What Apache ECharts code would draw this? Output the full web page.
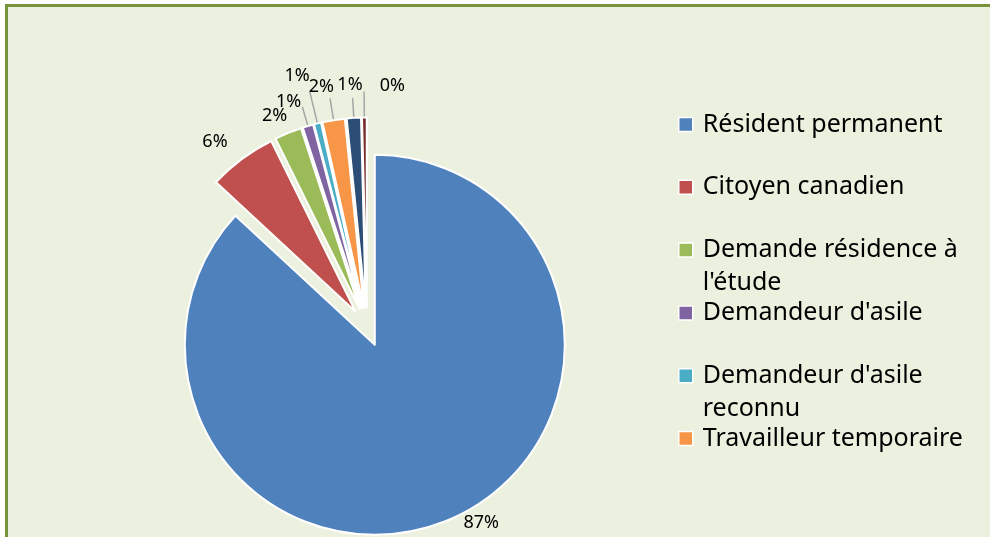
<!DOCTYPE html>
<html>
<head>
<meta charset="utf-8">
<title>Statut</title>
<script src="https://cdn.jsdelivr.net/npm/echarts@6/dist/echarts.min.js"></script>
<style>
	html, body {
		margin: 0;
		padding: 0;
		background: #fff;
		overflow: hidden;
	}
	.frame {
		position: absolute;
		left: 5px;
		top: 4px;
		width: 1000px;
		height: 600px;
		background: #ebf1de;
		border-left: 3px solid #77933c;
		border-top: 3px solid #77933c;
	}
	.pie_show {
		position: absolute;
		left: 0;
		top: 0;
		width: 990px;
		height: 537px;
	}
</style>
</head>
<body>
<div class="frame"></div>
<div class="pie_show"></div>
<script>
//données
var categories = ['Résident permanent', 'Citoyen canadien', 'Demande résidence à l\'étude', 'Demandeur d\'asile',
	'Demandeur d\'asile reconnu', 'Travailleur temporaire', 'Étudiant étranger', 'Autre'];
var values = [86.9, 5.8, 2.3, 0.9, 0.6, 1.9, 1.2, 0.4];
var colors = ['#4f81bd', '#c0504d', '#9bbb59', '#8064a2', '#4bacc6', '#f79646', '#2c4d75', '#772c2a'];
var legendShown = categories.slice(0, 6); // la légende est coupée après 6 entrées

//réglage des étiquettes (longueur du trait, écart, décalage vers le haut, trait visible)
var lineLen = [4, 22, 18, 20, 33, 22, 20, 26];
var labelGap = [11, 1, -6, 1, 0, -4, -10, -41];
var labelLift = [0, 0, 0, 5, 16, 12, 13, 6];
var lineShown = [false, false, false, true, true, true, true, true];

var legendFont = '25px "Noto Sans"';
var legendWidth = 285;

//coupe le nom en lignes comme dans la légende d'origine
function wrapName(name) {
	var ctx = document.createElement('canvas').getContext('2d');
	ctx.font = legendFont;
	var words = name.split(' ');
	var lines = [];
	var cur = '';
	for (var i = 0; i < words.length; i++) {
		var test = cur ? cur + ' ' + words[i] : words[i];
		if (cur && ctx.measureText(test).width > legendWidth) {
			lines.push(cur);
			cur = words[i];
		} else {
			cur = test;
		}
	}
	lines.push(cur);
	if (lines.length < 2) {
		lines.push('');
	}
	// ligne vide au-dessus : la première ligne reste au niveau du carré
	return '\n' + lines.join('\n');
}

function pie() {
	var myChart = echarts.init(document.querySelector('.pie_show'));
	var data = [];
	for (var i = 0; i < categories.length; i++) {
		data.push({
			name: categories[i],
			value: values[i],
			selected: true,
			itemStyle: {
				color: colors[i]
			},
			label: {
				distanceToLabelLine: labelGap[i]
			},
			labelLine: {
				show: lineShown[i],
				length: lineLen[i],
				length2: 0
			}
		});
	}
	var option = {
		animation: false,
		legend: {
			orient: 'vertical',
			left: 678,
			top: 75,
			padding: 0,
			itemGap: -36.2, // chaque entrée fait 3 lignes, on resserre
			itemWidth: 14,
			itemHeight: 14,
			icon: 'rect',
			itemStyle: {
				borderColor: '#fff',
				borderWidth: 1.5
			},
			formatter: wrapName,
			textStyle: {
				fontFamily: 'Noto Sans',
				fontSize: 25,
				color: '#000',
				lineHeight: 33,
				padding: [0, 0, 0, 5]
			},
			data: legendShown
		},
		series: [{
			type: 'pie',
			center: [367, 327],
			radius: 190,
			startAngle: 90,
			clockwise: true,
			selectedMode: 'multiple',
			selectedOffset: 19.5,
			avoidLabelOverlap: false,
			percentPrecision: 0,
			itemStyle: {
				borderColor: '#fff',
				borderWidth: 2
			},
			label: {
				position: 'outside',
				formatter: '{d}%',
				fontFamily: 'Noto Sans',
				fontSize: 18,
				color: '#000'
			},
			labelLine: {
				lineStyle: {
					color: '#a6a6a6',
					width: 1.5
				}
			},
			labelLayout: function(params) {
				return {
					dy: -labelLift[params.dataIndex],
					hideOverlap: false,
					moveOverlap: false
				};
			},
			emphasis: {
				disabled: true
			},
			data: data
		}]
	};
	myChart.setOption(option);
}
pie();
</script>
</body>
</html>
